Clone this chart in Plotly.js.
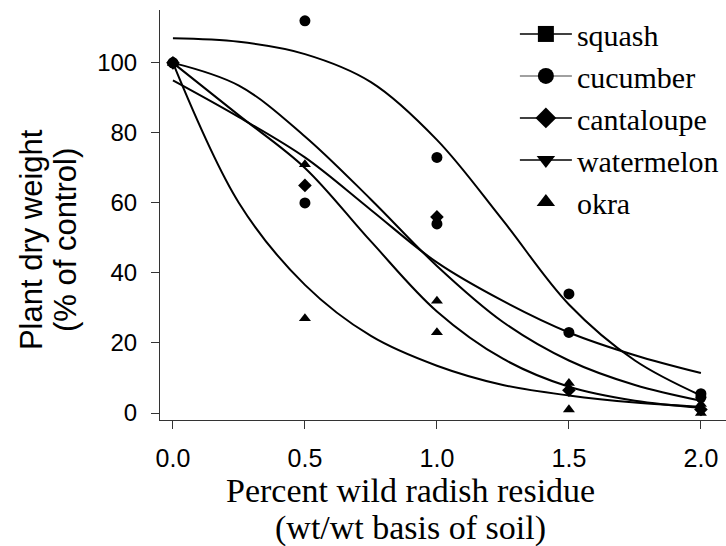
<!DOCTYPE html>
<html>
<head>
<meta charset="utf-8">
<script src="https://cdn.plot.ly/plotly-3.0.1.min.js"></script>
<style>
html,body{margin:0;padding:0;background:#fff;}
#chart{width:726px;height:546px;}
</style>
</head>
<body>
<div id="chart"></div>
<script>
// Observed data (percent of control)
var residue = [0, 0.5, 1.0, 1.5, 2.0];
var squash = [100, 60, 54, 23, 4.5];
var cucumber = [100, 112, 73, 34, 5.5];
var cantaloupe = [100, 65, 56, 6.5, 1];
var watermelon = [100, 71, 32, 8.5, 2.5];
var okra = [100, 27, 23, 1, 0];

// Fitted curves
var fitX = [0, 0.25, 0.5, 0.75, 1.0, 1.25, 1.5, 1.75, 2.0];
var squashFit = [95, 84.5, 73, 58, 43, 32, 23, 16.5, 11.4];
var cucumberFit = [107, 106, 102.5, 94.5, 78, 55, 31, 15, 5];
var cantaloupeFit = [100, 93.5, 79, 61, 42, 26, 15, 8, 3.5];
var watermelonFit = [100, 85, 70, 49, 29, 15.5, 7.5, 3.5, 1.5];
var okraFit = [100, 60, 36.6, 22, 13.5, 8, 5, 3, 1.8];

var names = ["squash", "cucumber", "cantaloupe", "watermelon", "okra"];
var legendSymbols = ["square", "circle", "diamond", "triangle-down", "triangle-up"];
var plotSymbols = ["circle", "circle", "diamond", "triangle-up", "triangle-up"];
var dataSets = [squash, cucumber, cantaloupe, watermelon, okra];
var fitSets = [squashFit, cucumberFit, cantaloupeFit, watermelonFit, okraFit];

var xTitle = ["Percent wild radish residue", "(wt/wt basis of soil)"];
var yTitle = ["Plant dry weight", "(% of control)"];

var traces = [];
fitSets.forEach(function (f) {
  traces.push({
    x: fitX, y: f, mode: "lines", type: "scatter",
    line: {color: "#000", width: 2, shape: "spline", smoothing: 1},
    showlegend: false, hoverinfo: "skip"
  });
});
[4, 3, 2, 0, 1].forEach(function (i) {
  traces.push({
    x: residue, y: dataSets[i], mode: "markers", type: "scatter",
    marker: {symbol: plotSymbols[i], color: "#000", size: plotSymbols[i] === "circle" ? 11 : 10.5},
    showlegend: false, name: names[i]
  });
});
names.forEach(function (n, i) {
  traces.push({
    x: [null], y: [null], type: "scatter",
    mode: i < 4 ? "lines+markers" : "markers",
    name: n,
    line: {color: i === 1 ? "#808080" : "#000", width: 1.5},
    marker: {symbol: legendSymbols[i], color: "#000", size: 16}
  });
});

var serif = "Liberation Serif, Times New Roman, serif";
var sans = "Liberation Sans, Arial, sans-serif";

var layout = {
  width: 726, height: 546,
  margin: {l: 160, r: 0, t: 10, b: 126},
  paper_bgcolor: "#fff", plot_bgcolor: "#fff",
  showlegend: true,
  legend: {
    x: 0.627, y: 1.005, xanchor: "left", yanchor: "top",
    font: {family: serif, size: 30, color: "#000"},
    bgcolor: "rgba(0,0,0,0)", itemwidth: 52, tracegroupgap: 0
  },
  xaxis: {
    range: [-0.049, 2.095],
    tickvals: [0, 0.5, 1.0, 1.5, 2.0],
    ticktext: ["0.0", "0.5", "1.0", "1.5", "2.0"],
    ticks: "outside", ticklen: 8, tickwidth: 1, tickcolor: "#333",
    showline: true, linecolor: "#333", linewidth: 1,
    showgrid: false, zeroline: false,
    ticklabelstandoff: 8,
    tickfont: {family: sans, size: 25, color: "#000"}
  },
  yaxis: {
    range: [-2, 115.1],
    tickvals: [0, 20, 40, 60, 80, 100],
    ticks: "outside", ticklen: 8, tickwidth: 1, tickcolor: "#333",
    showline: true, linecolor: "#333", linewidth: 1,
    showgrid: false, zeroline: false,
    ticklabelstandoff: 9,
    tickfont: {family: sans, size: 24, color: "#000"}
  },
  annotations: [
    {text: xTitle[0], xref: "paper", yref: "paper", x: 0.442, y: -0.171,
     xanchor: "center", yanchor: "middle", showarrow: false,
     font: {family: serif, size: 34, color: "#000"}},
    {text: xTitle[1], xref: "paper", yref: "paper", x: 0.442, y: -0.264,
     xanchor: "center", yanchor: "middle", showarrow: false,
     font: {family: serif, size: 34, color: "#000"}},
    {text: yTitle[0], xref: "paper", yref: "paper", x: -0.227, y: 0.44,
     xanchor: "center", yanchor: "middle", showarrow: false, textangle: -90,
     font: {family: sans, size: 31, color: "#000"}},
    {text: yTitle[1], xref: "paper", yref: "paper", x: -0.167, y: 0.44,
     xanchor: "center", yanchor: "middle", showarrow: false, textangle: -90,
     font: {family: sans, size: 31, color: "#000"}}
  ]
};

Plotly.newPlot("chart", traces, layout, {displayModeBar: false, staticPlot: true});
</script>
</body>
</html>
